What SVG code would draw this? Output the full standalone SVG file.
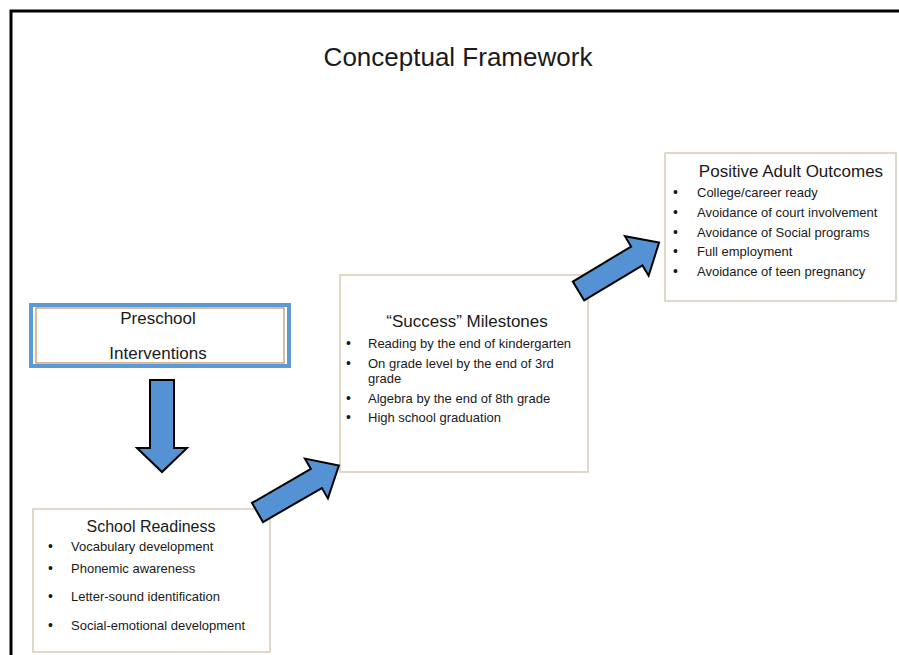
<svg xmlns="http://www.w3.org/2000/svg" width="899" height="655" viewBox="0 0 899 655">
<style>
text{font-family:"Liberation Sans",Arial,sans-serif;fill:#1a1a1a}
.title{font-size:26px}
.head{font-size:17px;text-anchor:middle}
.item{font-size:13px}
.bul{font-size:14px}
.box{fill:#fff;stroke:#d9cbb5;stroke-width:1.5}
.arrow{fill:#5592d4;stroke:#000;stroke-width:2;stroke-linejoin:miter}
</style>
<rect x="0" y="0" width="899" height="655" fill="#fff"/>
<rect x="11" y="11" width="900" height="660" fill="none" stroke="#000" stroke-width="3"/>
<text class="title" x="458" y="66" text-anchor="middle">Conceptual Framework</text>

<g id="preschool">
<rect x="31" y="305" width="258" height="61" fill="#fff" stroke="#5b9bd5" stroke-width="4"/>
<rect x="36" y="308" width="248" height="55" fill="none" stroke="#c78a5e" stroke-width="1.2"/>
<text class="head" x="158" y="324">Preschool</text>
<text class="head" x="158" y="359">Interventions</text>
</g>

<g id="school-readiness">
<rect class="box" x="33" y="509" width="237" height="143"/>
<text class="head" x="151" y="532" style="font-size:16px">School Readiness</text>
<text class="bul" x="48" y="551">•</text><text class="item" x="71" y="551">Vocabulary development</text>
<text class="bul" x="48" y="573">•</text><text class="item" x="71" y="573">Phonemic awareness</text>
<text class="bul" x="48" y="601">•</text><text class="item" x="71" y="601">Letter-sound identification</text>
<text class="bul" x="48" y="630">•</text><text class="item" x="71" y="630">Social-emotional development</text>
</g>

<g id="milestones">
<rect class="box" x="340" y="275" width="248" height="197"/>
<text class="head" x="467" y="327">“Success” Milestones</text>
<text class="bul" x="346" y="348">•</text><text class="item" x="368" y="348">Reading by the end of kindergarten</text>
<text class="bul" x="346" y="368">•</text><text class="item" x="368" y="368">On grade level by the end of 3rd</text>
<text class="item" x="368" y="383">grade</text>
<text class="bul" x="346" y="403">•</text><text class="item" x="368" y="403">Algebra by the end of 8th grade</text>
<text class="bul" x="346" y="422">•</text><text class="item" x="368" y="422">High school graduation</text>
</g>

<g id="outcomes">
<rect class="box" x="665" y="153" width="231" height="148"/>
<text class="head" x="791" y="177">Positive Adult Outcomes</text>
<text class="bul" x="673" y="197">•</text><text class="item" x="697" y="197">College/career ready</text>
<text class="bul" x="673" y="217">•</text><text class="item" x="697" y="217">Avoidance of court involvement</text>
<text class="bul" x="673" y="237">•</text><text class="item" x="697" y="237">Avoidance of Social programs</text>
<text class="bul" x="673" y="256">•</text><text class="item" x="697" y="256">Full employment</text>
<text class="bul" x="673" y="276">•</text><text class="item" x="697" y="276">Avoidance of teen pregnancy</text>
</g>

<g id="connectors">
<path class="arrow" d="M150,380 H174 V448 H187 L162,472 L137,448 H150 Z"/>
<path class="arrow" transform="translate(257.5,512.5) rotate(-30)" d="M0,-11 H68 V-23 L94,0 L68,23 V11 H0 Z"/>
<path class="arrow" transform="translate(578.5,291) rotate(-31)" d="M0,-11 H68 V-23 L94,0 L68,23 V11 H0 Z"/>
</g>
</svg>
